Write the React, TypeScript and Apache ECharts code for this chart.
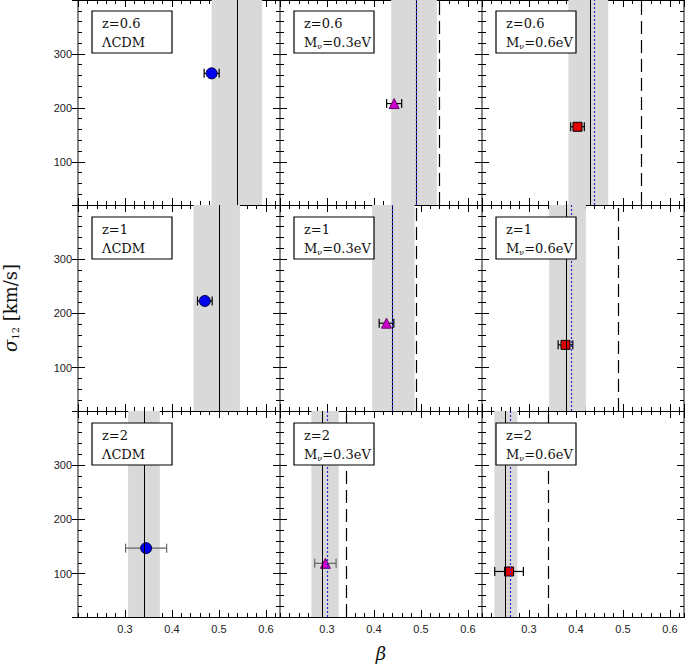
import React, { useEffect, useRef } from 'react';
import * as echarts from 'echarts';

// ---- data (row-major: z=0.6, z=1, z=2 ; columns: ΛCDM, Mν=0.3eV, Mν=0.6eV) ----
const redshiftLabels = ['z=0.6', 'z=1', 'z=2'];
const modelNames = ['ΛCDM', 'M_ν=0.3eV', 'M_ν=0.6eV'];

const pointBeta = [0.4845, 0.443, 0.4033, 0.470, 0.4267, 0.3777, 0.345, 0.2966, 0.2576];
const pointSigma = [264, 208, 165, 223, 182, 142, 147, 119, 104];
const betaErr = [0.016, 0.016, 0.0145, 0.0156, 0.0156, 0.0156, 0.0437, 0.0228, 0.0305];

const bandLow = [0.4845, 0.4367, 0.384, 0.4459, 0.3962, 0.3429, 0.3066, 0.2668, 0.2263];
const bandHigh = [0.592, 0.534, 0.4687, 0.5448, 0.4864, 0.4211, 0.3742, 0.3251, 0.2753];
const solidLine = [0.5376, 0.4864, 0.4267, 0.4957, 0.4403, 0.3819, 0.3379, 0.2945, 0.2497];
const dottedLine = [null, 0.4907, 0.4377, null, 0.4437, 0.394, null, 0.2996, 0.2597];
const dashedLine = [null, 0.5397, 0.536, null, 0.4942, 0.4928, null, 0.34, 0.338];

const xMin = 0.2;
const xMax = 0.63;
const xMajor = 0.1;
const xMinor = 0.02;
const yMin = 20;
const yMax = 400;
const yMinor = 20;

// ---- layout / style ----
const COL_LEFT = [78, 280, 482];
const ROW_TOP = [-1, 205, 411];
const GRID_W = 202;
const GRID_H = 206;

const markerStyle = [
  { symbol: 'circle', size: 11, color: '#0000ee', border: '#000044' },
  { symbol: 'triangle', size: 10, color: '#cc00cc', border: '#660066' },
  { symbol: 'rect', size: 9, color: '#e00000', border: '#000000' },
];
const errColor = ['#000', '#000', '#000', '#000', '#000', '#000', '#666', '#666', '#000'];

const tickFont = 'Liberation Sans, Arial, sans-serif';
const serif = 'DejaVu Serif, Liberation Serif, serif';

export default function App() {
  const ref = useRef<HTMLDivElement>(null);

  useEffect(() => {
    if (!ref.current) return;
    const chart = echarts.init(ref.current, undefined, { renderer: 'svg' });

    const grids: any[] = [];
    const xAxes: any[] = [];
    const yAxes: any[] = [];
    const series: any[] = [];
    const graphics: any[] = [];

    const tickStyle = { color: '#000', width: 1 };

    for (let r = 0; r < 3; r++) {
      for (let c = 0; c < 3; c++) {
        const g = r * 3 + c;
        grids.push({ left: COL_LEFT[c], top: ROW_TOP[r], width: GRID_W, height: GRID_H, containLabel: false });

        const baseX = {
          type: 'value',
          gridIndex: g,
          min: xMin,
          max: xMax,
          splitLine: { show: false },
          axisLine: { show: true, onZero: false, lineStyle: { color: '#000', width: 1 } },
        };
        const xb = xAxes.length;
        xAxes.push({
          ...baseX,
          position: 'bottom',
          interval: xMajor,
          axisTick: { show: true, inside: true, length: 7, lineStyle: tickStyle },
          axisLabel: {
            show: r === 2,
            showMinLabel: false,
            showMaxLabel: false,
            margin: 6,
            fontFamily: tickFont,
            fontSize: 11,
            color: '#222',
            formatter: (v: number) => v.toFixed(1),
          },
        });
        for (const pos of ['bottom', 'top']) {
          xAxes.push({
            ...baseX,
            position: pos,
            interval: xMinor,
            axisTick: { show: true, inside: true, length: 4, lineStyle: tickStyle },
            axisLabel: { show: false },
          });
        }
        xAxes.push({
          ...baseX,
          position: 'top',
          interval: xMajor,
          axisTick: { show: true, inside: true, length: 7, lineStyle: tickStyle },
          axisLabel: { show: false },
        });

        const baseY = {
          type: 'value',
          gridIndex: g,
          min: yMin,
          max: yMax,
          splitLine: { show: false },
          axisLine: { show: true, onZero: false, lineStyle: { color: '#888', width: 2 } },
        };
        const yl = yAxes.length;
        yAxes.push({
          ...baseY,
          position: 'left',
          splitNumber: 4,
          axisTick: { show: true, inside: true, length: 7, lineStyle: tickStyle },
          axisLabel: {
            show: c === 0,
            showMinLabel: false,
            showMaxLabel: false,
            margin: 6,
            fontFamily: tickFont,
            fontSize: 11,
            color: '#222',
          },
        });
        for (const pos of ['left', 'right']) {
          yAxes.push({
            ...baseY,
            position: pos,
            interval: yMinor,
            axisTick: { show: true, inside: true, length: 4, lineStyle: tickStyle },
            axisLabel: { show: false },
          });
        }
        yAxes.push({
          ...baseY,
          position: 'right',
          splitNumber: 4,
          axisTick: { show: true, inside: true, length: 7, lineStyle: tickStyle },
          axisLabel: { show: false },
        });
        if (c === 0) {
          yAxes.push({
            ...baseY,
            position: 'left',
            splitNumber: 4,
            axisLine: { show: false },
            axisTick: { show: true, inside: false, length: 6, lineStyle: tickStyle },
            axisLabel: { show: false },
          });
        }

        // uncertainty band
        series.push({
          type: 'line',
          xAxisIndex: xb,
          yAxisIndex: yl,
          data: [],
          z: 1,
          silent: true,
          markArea: {
            silent: true,
            itemStyle: { color: '#d9d9d9', borderWidth: 0 },
            label: { show: false },
            data: [[{ xAxis: bandLow[g] }, { xAxis: bandHigh[g] }]],
          },
        });

        const lines: any[] = [
          { xAxis: solidLine[g], lineStyle: { color: '#000', width: 1, type: 'solid' } },
        ];
        if (dottedLine[g] !== null)
          lines.push({ xAxis: dottedLine[g], lineStyle: { color: '#2a2ad0', width: 1.2, type: [2, 2] } });
        if (dashedLine[g] !== null)
          lines.push({ xAxis: dashedLine[g], lineStyle: { color: '#000', width: 1.2, type: [13, 6] } });

        series.push({
          type: 'line',
          xAxisIndex: xb,
          yAxisIndex: yl,
          data: [],
          z: 2,
          silent: true,
          markLine: {
            silent: true,
            symbol: ['none', 'none'],
            label: { show: false },
            data: lines,
          },
        });

        const ec = errColor[g];
        series.push({
          type: 'custom',
          xAxisIndex: xb,
          yAxisIndex: yl,
          z: 3,
          silent: true,
          encode: { x: [0, 1], y: 2 },
          data: [[pointBeta[g] - betaErr[g], pointBeta[g] + betaErr[g], pointSigma[g]]],
          renderItem: (params: any, api: any) => {
            const p1 = api.coord([api.value(0), api.value(2)]);
            const p2 = api.coord([api.value(1), api.value(2)]);
            const h = 4.5;
            const st = { stroke: ec, lineWidth: 1.2 };
            return {
              type: 'group',
              children: [
                { type: 'line', shape: { x1: p1[0], y1: p1[1], x2: p2[0], y2: p2[1] }, style: st },
                { type: 'line', shape: { x1: p1[0], y1: p1[1] - h, x2: p1[0], y2: p1[1] + h }, style: st },
                { type: 'line', shape: { x1: p2[0], y1: p2[1] - h, x2: p2[0], y2: p2[1] + h }, style: st },
              ],
            };
          },
        });

        const ms = markerStyle[c];
        series.push({
          type: 'scatter',
          xAxisIndex: xb,
          yAxisIndex: yl,
          z: 4,
          symbol: ms.symbol,
          symbolSize: ms.size,
          itemStyle: { color: ms.color, borderColor: ms.border, borderWidth: 1, opacity: 1 },
          data: [[pointBeta[g], pointSigma[g]]],
        });

        // label box
        const bx = COL_LEFT[c] + 14;
        const by = ROW_TOP[r] + 12;
        const modelRich = modelNames[c].includes('_ν')
          ? '{t|' + modelNames[c].replace('_ν', '}{s|ν}{t|') + '}'
          : '{t|' + modelNames[c] + '}';
        graphics.push({
          type: 'rect',
          z: 100,
          shape: { x: bx, y: by, width: 80, height: 42 },
          style: { fill: '#fff', stroke: '#000', lineWidth: 1.2 },
        });
        graphics.push({
          type: 'text',
          z: 101,
          x: bx + 10,
          y: by + 12,
          style: {
            text: redshiftLabels[r],
            fontFamily: serif,
            fontSize: 13,
            fill: '#111',
            textAlign: 'left',
            textVerticalAlign: 'middle',
          },
        });
        graphics.push({
          type: 'text',
          z: 101,
          x: bx + 10,
          y: by + 33,
          style: {
            text: modelRich,
            textAlign: 'left',
            textVerticalAlign: 'middle',
            rich: {
              t: { fontFamily: serif, fontSize: 13, fill: '#111', lineHeight: 16, verticalAlign: 'top' },
              s: { fontFamily: serif, fontSize: 8, fill: '#111', lineHeight: 10, verticalAlign: 'top', padding: [6, 0, 0, 0] },
            },
          },
        });
      }
    }

    // axis titles
    graphics.push({
      type: 'text',
      z: 101,
      x: 12,
      y: 308,
      rotation: Math.PI / 2,
      style: {
        text: '{i|σ}{s|12}{n| [km/s]}',
        textAlign: 'center',
        textVerticalAlign: 'middle',
        rich: {
          i: { fontFamily: serif, fontSize: 18, fontStyle: 'italic', fill: '#111', lineHeight: 22, verticalAlign: 'top' },
          s: { fontFamily: serif, fontSize: 10, fill: '#111', lineHeight: 12, verticalAlign: 'top', padding: [9, 0, 0, 0] },
          n: { fontFamily: serif, fontSize: 18, fill: '#111', lineHeight: 22, verticalAlign: 'top' },
        },
      },
    });
    graphics.push({
      type: 'text',
      z: 101,
      x: 381,
      y: 653,
      style: {
        text: 'β',
        fontFamily: serif,
        fontStyle: 'italic',
        fontSize: 18,
        fill: '#111',
        textAlign: 'center',
        textVerticalAlign: 'middle',
      },
    });

    chart.setOption({
      animation: false,
      backgroundColor: '#fff',
      grid: grids,
      xAxis: xAxes,
      yAxis: yAxes,
      series,
      graphic: graphics,
    });

    return () => chart.dispose();
  }, []);

  return (
    <div
      ref={ref}
      style={{ position: 'fixed', left: 0, top: 0, width: 685, height: 669, background: '#fff' }}
    />
  );
}
